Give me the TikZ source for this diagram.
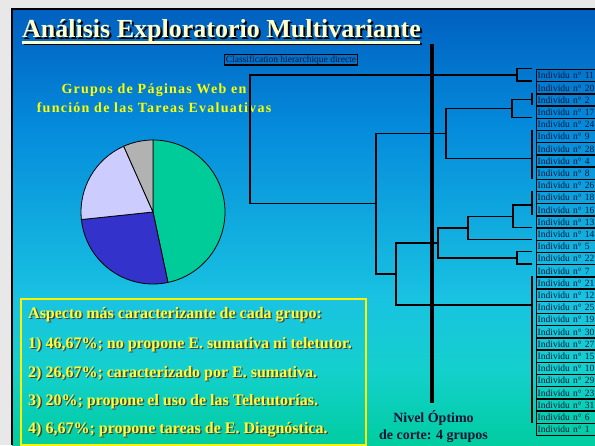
\documentclass[tikz,border=0pt]{standalone}
\usepackage{fontspec}
\setmainfont{Liberation Serif}
\newfontfamily\spacedserif[LetterSpace=9]{Liberation Serif}
\usetikzlibrary{positioning}
\definecolor{bgtop}{RGB}{0,96,192}
\definecolor{bgmidhi}{RGB}{5,140,220}
\definecolor{bgmid}{RGB}{25,195,225}
\definecolor{bgmidlo}{RGB}{20,208,205}
\definecolor{bgbot}{RGB}{0,205,160}
\definecolor{titlecream}{RGB}{255,255,204}
\definecolor{subyellow}{RGB}{255,255,0}
\definecolor{boxyellow}{RGB}{255,255,51}
\definecolor{labelnavy}{RGB}{0,25,60}
\definecolor{nivelnavy}{RGB}{20,20,50}
\definecolor{piegreen}{RGB}{0,204,153}
\definecolor{pieblue}{RGB}{51,51,204}
\definecolor{pielilac}{RGB}{204,204,255}
\definecolor{piegray}{RGB}{178,178,178}
\pgfdeclareverticalshading{slidebg}{100bp}{color(0bp)=(bgbot); color(25bp)=(bgbot); color(33.6bp)=(bgmidlo); color(41.6bp)=(bgmid); color(61.1bp)=(bgmidhi); color(75bp)=(bgtop); color(100bp)=(bgtop)}
\tikzset{
    dendro/.style={line width=1.2pt, black},
    cutline/.style={line width=3.5pt, black},
    indbox/.style={draw, line width=1.4pt, anchor=north west, minimum height=12.2pt, text width=66pt, inner xsep=1pt, inner ysep=0pt, align=left, text=labelnavy, font=\fontsize{9.5}{10}\selectfont},
    classbox/.style={draw, line width=1.5pt, inner xsep=1.5pt, inner ysep=1pt, text=labelnavy, font=\fontsize{9.5}{11}\selectfont},
    titletxt/.style={anchor=base west, inner sep=0pt, text=titlecream, font=\fontsize{26}{30}\selectfont\bfseries},
    titleshadow/.style={titletxt, text=black},
    subtxt/.style={align=center, inner sep=0pt, text=subyellow, font=\spacedserif\fontsize{14}{19.5}\selectfont\bfseries},
    boxtxt/.style={anchor=base west, inner sep=0pt, text=boxyellow, font=\fontsize{16}{19}\selectfont\bfseries},
    boxshadow/.style={boxtxt, text=black!75},
    yellowframe/.style={draw=yellow, line width=2.5pt, inner sep=0pt},
    nivel/.style={align=center, inner sep=0pt, text=nivelnavy, font=\fontsize{14}{17.5}\selectfont\bfseries}
}
\newcommand{\dendjoin}[3]{\draw[dendro] (#1) -- (#1 -| #3) -- (#2 -| #3) -- (#2);}

\begin{document}
\begin{tikzpicture}[x=1pt, y=-1pt]
    \useasboundingbox (0,0) rectangle (595,445);
    % slide background
    \fill[gray!18] (0,0) rectangle (595,445);
    \shade[shading=slidebg] (12,9) rectangle (595,445);
    \draw[line width=1.2pt] (12,445) -- (12,9) -- (595,9);

    % title
    \node[titleshadow] (titles) at (24,39) {Análisis Exploratorio Multivariante};
    \node[titletxt] (title) at (22,37) {Análisis Exploratorio Multivariante};
    \draw[line width=2.5pt, black] (23.5,44) -- (421.5,44);
    \draw[line width=2.5pt, titlecream] (22,42.5) -- (420,42.5);

    % pie chart
    \node[subtxt] (pietitle) at (154,98) {Grupos de Páginas Web en\\función de las Tareas Evaluativas};
    \coordinate (pc) at (153,212);
    \foreach \a/\b/\c in {-90/78/piegreen, 78/174/pieblue, 174/246/pielilac, 246/270/piegray}
        \filldraw[fill=\c, draw=black, line width=0.8pt] (pc) -- ++(\a:72) arc[start angle=\a, end angle=\b, radius=72] -- cycle;

    % aspects box
    \node[yellowframe, minimum width=345, minimum height=146, anchor=north west] (aspectbox) at (19.5,297.5) {};
    \foreach \t/\y [count=\k] in {{Aspecto más caracterizante de cada grupo:}/318,
                                  {1) 46,67\%; no propone E. sumativa ni teletutor.}/348,
                                  {2) 26,67\%; caracterizado por E. sumativa.}/377,
                                  {3) 20\%; propone el uso de las Teletutorías.}/405,
                                  {4) 6,67\%; propone tareas de E. Diagnóstica.}/433} {
        \node[boxshadow] (s\k) at (29.3,\y+1.3) {\t};
        \node[boxtxt] (t\k) at (28,\y) {\t};
    }

    % dendrogram
    \node[classbox] (classif) at (291,59.7) {Classification hierarchique directe};
    \foreach \n [count=\i from 0] in {11,20,2,17,24,9,28,4,8,26,18,16,13,14,5,22,7,21,12,25,19,30,27,15,10,29,23,31,6,1} {
        \node[indbox] (ind\n) at (536,{68.8+12.2*\i}) {Individu n° \n};
        \coordinate (l\i) at (532,{68.8+12.2*\i});
    }
    \coordinate (g1) at (532,99.3);
    \coordinate (g2) at (532,158.7);
    \coordinate (g3) at (532,205);
    \coordinate (g4) at (532,305);
    \draw[dendro] (l2) -- (l3);
    \draw[dendro] (l5) -- (l9);
    \draw[dendro] (l10) -- (l12);
    \draw[dendro] (l17) -- (l29);
    \coordinate (A) at (517,74.9);
    \coordinate (C1) at (512,108.5);
    \coordinate (C) at (446,133.6);
    \coordinate (E11) at (513,216.2);
    \coordinate (E1) at (468,227.9);
    \coordinate (E2) at (517,257.9);
    \coordinate (E) at (438,242.9);
    \coordinate (D) at (396,274);
    \coordinate (B) at (376,203.8);
    \coordinate (R) at (250,139.4);
    \dendjoin{l0}{l1}{A}
    \dendjoin{g1}{l4}{C1}
    \dendjoin{C1}{g2}{C}
    \dendjoin{g3}{l13}{E11}
    \dendjoin{E11}{l14}{E1}
    \dendjoin{l15}{l16}{E2}
    \dendjoin{E1}{E2}{E}
    \dendjoin{E}{g4}{D}
    \dendjoin{C}{D}{B}
    \dendjoin{A}{B}{R}

    % optimal cut
    \coordinate (cuttop) at (432,44);
    \coordinate (cutbot) at (432,403);
    \draw[cutline] (cuttop) -- (cutbot);
    \node[nivel, below=7pt of cutbot, xshift=1.5pt] (nivel) {Nivel Óptimo\\de corte: 4 grupos};
\end{tikzpicture}
\end{document}
